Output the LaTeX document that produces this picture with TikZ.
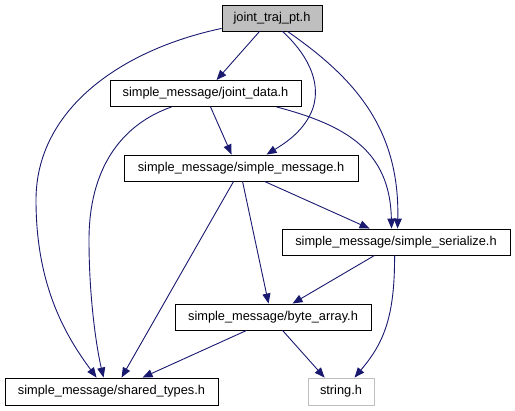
\documentclass[tikz,border=0pt]{standalone}
\usepackage{fontspec}
\setmainfont{Liberation Sans}
\usetikzlibrary{arrows.meta}
\definecolor{edgecol}{HTML}{191970}
\definecolor{rootfill}{HTML}{BFBFBF}
\definecolor{extgray}{HTML}{BFBFBF}
\tikzset{
  filebox/.style={draw=black, line width=0.9pt, fill=white, inner sep=0pt,
    minimum height=26pt, font=\fontsize{12.8}{14}\selectfont, anchor=center},
  rootbox/.style={filebox, fill=rootfill},
  extbox/.style={filebox, draw=extgray},
  dep/.style={draw=edgecol, line width=0.9pt, -{Triangle[length=10pt,width=8pt]}}
}
\begin{document}
\begin{tikzpicture}[x=1pt,y=-1pt]
\useasboundingbox (0,0) rectangle (515,411);
\node[rootbox, minimum width=100pt] (traj) at (272,18) {joint\_traj\_pt.h};
\node[filebox, minimum width=191pt] (jd) at (205.5,93.5) {simple\_message/joint\_data.h};
\node[filebox, minimum width=234pt] (sm) at (241,168) {simple\_message/simple\_message.h};
\node[filebox, minimum width=228pt] (ser) at (396,242) {simple\_message/simple\_serialize.h};
\node[filebox, minimum width=196pt] (ba) at (273,317) {simple\_message/byte\_array.h};
\node[filebox, minimum width=213pt, minimum height=27pt] (st) at (111.5,391.5) {simple\_message/shared\_types.h};
\node[extbox, minimum width=66pt, minimum height=27pt] (str) at (341,391.5) {string.h};
% edges
\draw[dep] ([xshift=38pt]traj.south west) -- ([xshift=107pt]jd.north west);
\draw[dep] ([yshift=3pt]traj.south west) .. controls (120,50) and (36,110) .. (36,200)
  .. controls (36,285) and (65,335) .. ([xshift=92pt]st.north west);
\draw[dep] ([xshift=61pt]traj.south west) .. controls (305,52) and (322,80) .. (313,108)
  .. controls (305,130) and (287,142) .. ([xshift=143pt]sm.north west);
\draw[dep] ([xshift=66pt]traj.south west) .. controls (350,75) and (400,125) .. ([xshift=116pt]ser.north west);
\draw[dep] ([xshift=101pt]jd.south west) -- ([xshift=108pt]sm.north west);
\draw[dep] ([xshift=62pt]jd.south west) .. controls (120,125) and (89,170) .. (89,240)
  .. controls (89,300) and (97,350) .. ([xshift=99pt]st.north west);
\draw[dep] ([xshift=167pt]jd.south west) .. controls (345,125) and (390,150) .. ([xshift=110pt]ser.north west);
\draw[dep] ([xshift=141pt]sm.south west) -- ([xshift=88pt]ser.north west);
\draw[dep] ([xshift=119pt]sm.south west) -- ([xshift=94pt]ba.north west);
\draw[dep] ([xshift=110pt]sm.south west) -- ([xshift=117pt]st.north west);
\draw[dep] ([xshift=93pt]ser.south west) -- ([xshift=118pt]ba.north west);
\draw[dep] ([xshift=113pt]ser.south west) .. controls (395,320) and (382,345) .. ([xshift=47pt]str.north west);
\draw[dep] ([xshift=108pt]ba.south west) -- ([xshift=17pt]str.north west);
\draw[dep] ([xshift=72pt]ba.south west) -- ([xshift=138pt]st.north west);
\end{tikzpicture}
\end{document}
